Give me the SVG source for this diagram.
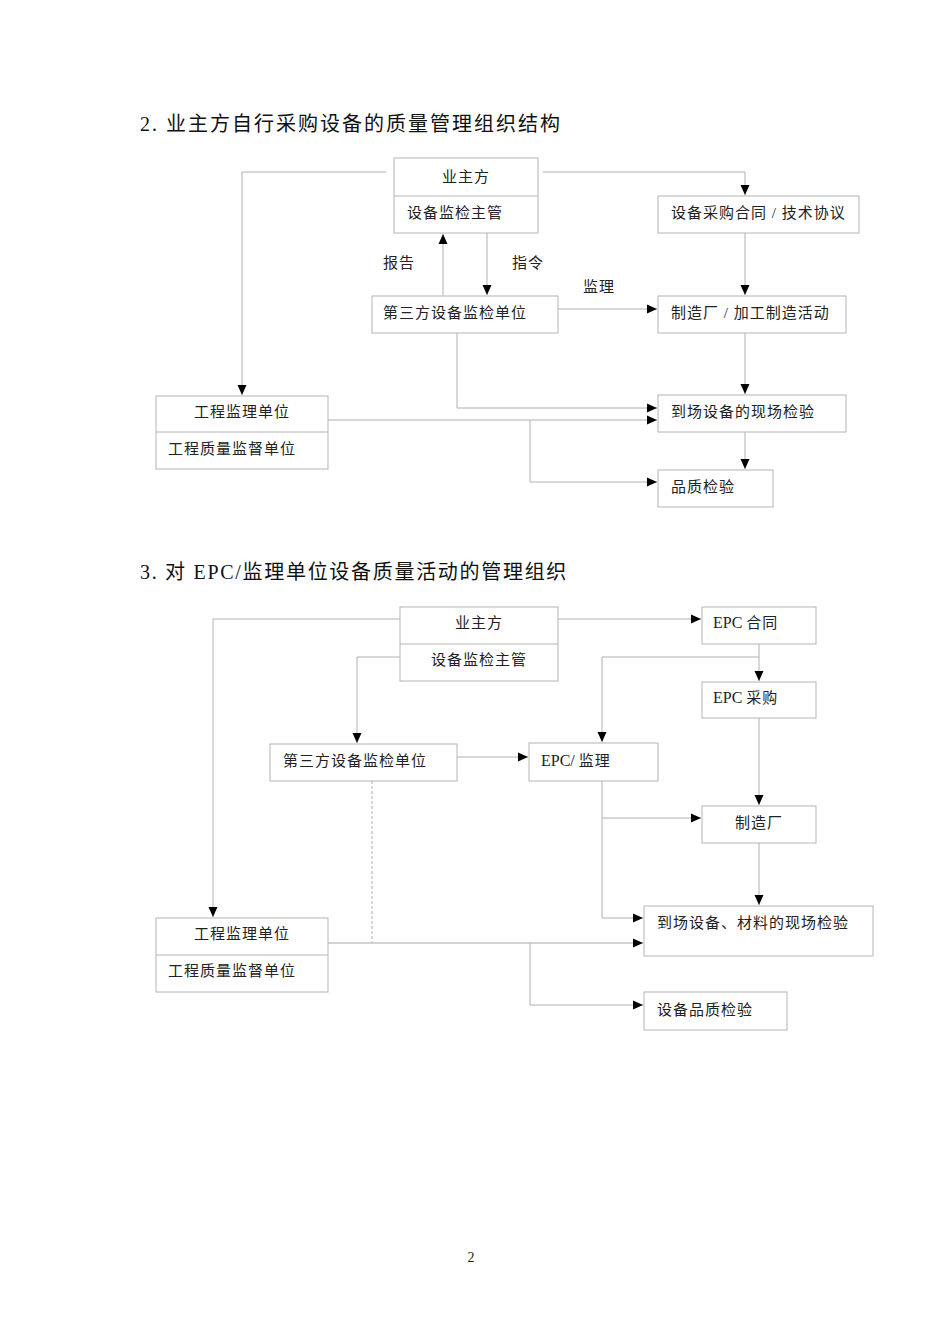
<svg xmlns="http://www.w3.org/2000/svg" width="950" height="1344" viewBox="0 0 950 1344">
<style>
.bg{fill:#ffffff}
.box{fill:#ffffff;stroke:#b4b4b4;stroke-width:1}
.div{stroke:#b4b4b4;stroke-width:1}
.ln{fill:none;stroke:#b0b0b0;stroke-width:1}
.dash{fill:none;stroke:#b0b0b0;stroke-width:1;stroke-dasharray:3,2}
.t{font-family:"Liberation Serif","Noto Sans CJK SC",serif;font-size:15px;fill:#222;letter-spacing:1px}
.h{font-family:"Liberation Serif","Noto Sans CJK SC",serif;font-size:20px;fill:#111;letter-spacing:2px}
.c{text-anchor:middle}
.e{letter-spacing:0;font-size:16px}
</style>
<defs>
<marker id="ah" markerUnits="userSpaceOnUse" markerWidth="10" markerHeight="10" refX="10" refY="5" orient="auto">
<path d="M0,0.5 L10,5 L0,9.5 z" fill="#000"/>
</marker>
</defs>
<rect class="bg" x="0" y="0" width="950" height="1344"/>

<text class="h" x="140" y="131">2. 业主方自行采购设备的质量管理组织结构</text>
<text class="h" x="140" y="579" style="letter-spacing:1.7px">3. 对 EPC/监理单位设备质量活动的管理组织</text>

<g id="connectors">
<path class="ln" d="M386,172 H242 V395" marker-end="url(#ah)"/>
<path class="ln" d="M543,172 H745 V195" marker-end="url(#ah)"/>
<path class="ln" d="M443,296 V234" marker-end="url(#ah)"/>
<path class="ln" d="M487,233 V295" marker-end="url(#ah)"/>
<path class="ln" d="M558,309 H657" marker-end="url(#ah)"/>
<path class="ln" d="M745,233 V295" marker-end="url(#ah)"/>
<path class="ln" d="M745,333 V394" marker-end="url(#ah)"/>
<path class="ln" d="M457,333 V408 H657" marker-end="url(#ah)"/>
<path class="ln" d="M328,420 H657" marker-end="url(#ah)"/>
<path class="ln" d="M530,420 V482 H657" marker-end="url(#ah)"/>
<path class="ln" d="M745,432 V469" marker-end="url(#ah)"/>
<path class="ln" d="M400,619 H213 V917" marker-end="url(#ah)"/>
<path class="ln" d="M400,657 H357 V743" marker-end="url(#ah)"/>
<path class="ln" d="M558,619 H701" marker-end="url(#ah)"/>
<path class="ln" d="M759,644 V681" marker-end="url(#ah)"/>
<path class="ln" d="M759,657 H602 V742" marker-end="url(#ah)"/>
<path class="ln" d="M457,757 H528" marker-end="url(#ah)"/>
<path class="ln" d="M759,718 V805" marker-end="url(#ah)"/>
<path class="ln" d="M602,781 V918 H643" marker-end="url(#ah)"/>
<path class="ln" d="M602,818 H701" marker-end="url(#ah)"/>
<path class="ln" d="M759,843 V905" marker-end="url(#ah)"/>
<path class="dash" d="M372,781 V943"/>
<path class="ln" d="M328,943 H643" marker-end="url(#ah)" style="stroke-width:1.5;stroke:#c4c4c4"/>
<path class="ln" d="M530,943 V1005 H643" marker-end="url(#ah)"/>
</g>

<text class="t" x="383" y="268">报告</text>
<text class="t" x="512" y="268">指令</text>
<text class="t" x="583" y="292">监理</text>

<g id="owner2">
<rect class="box" x="394" y="158" width="144" height="75"/>
<line class="div" x1="394" y1="196" x2="538" y2="196"/>
<text class="t c" x="466" y="182">业主方</text>
<text class="t" x="407" y="218">设备监检主管</text>
</g>
<g id="contract2">
<rect class="box" x="658" y="196" width="201" height="37"/>
<text class="t" x="671" y="218">设备采购合同 / 技术协议</text>
</g>
<g id="third2">
<rect class="box" x="372" y="296" width="186" height="37"/>
<text class="t" x="383" y="318">第三方设备监检单位</text>
</g>
<g id="factory2">
<rect class="box" x="658" y="296" width="188" height="37"/>
<text class="t" x="671" y="318">制造厂 / 加工制造活动</text>
</g>
<g id="site2">
<rect class="box" x="658" y="395" width="188" height="37"/>
<text class="t" x="671" y="417">到场设备的现场检验</text>
</g>
<g id="quality2">
<rect class="box" x="658" y="470" width="115" height="37"/>
<text class="t" x="671" y="492">品质检验</text>
</g>
<g id="supervision2">
<rect class="box" x="156" y="396" width="172" height="73"/>
<line class="div" x1="156" y1="432" x2="328" y2="432"/>
<text class="t c" x="242" y="417">工程监理单位</text>
<text class="t" x="168" y="454">工程质量监督单位</text>
</g>

<g id="owner3">
<rect class="box" x="400" y="607" width="158" height="74"/>
<line class="div" x1="400" y1="644" x2="558" y2="644"/>
<text class="t c" x="479" y="628">业主方</text>
<text class="t c" x="479" y="665">设备监检主管</text>
</g>
<g id="epccontract3">
<rect class="box" x="702" y="607" width="114" height="37"/>
<text class="t" x="713" y="628"><tspan class="e">EPC </tspan>合同</text>
</g>
<g id="epcbuy3">
<rect class="box" x="702" y="682" width="114" height="36"/>
<text class="t" x="713" y="703"><tspan class="e">EPC </tspan>采购</text>
</g>
<g id="third3">
<rect class="box" x="270" y="744" width="187" height="37"/>
<text class="t" x="283" y="766">第三方设备监检单位</text>
</g>
<g id="epcsup3">
<rect class="box" x="529" y="743" width="129" height="38"/>
<text class="t" x="541" y="766"><tspan class="e">EPC/ </tspan>监理</text>
</g>
<g id="factory3">
<rect class="box" x="702" y="806" width="114" height="37"/>
<text class="t c" x="759" y="828">制造厂</text>
</g>
<g id="site3">
<rect class="box" x="644" y="906" width="229" height="50"/>
<text class="t" x="657" y="928">到场设备、材料的现场检验</text>
</g>
<g id="quality3">
<rect class="box" x="644" y="992" width="143" height="38"/>
<text class="t" x="657" y="1015">设备品质检验</text>
</g>
<g id="supervision3">
<rect class="box" x="156" y="918" width="172" height="74"/>
<line class="div" x1="156" y1="955" x2="328" y2="955"/>
<text class="t c" x="242" y="939">工程监理单位</text>
<text class="t" x="168" y="976">工程质量监督单位</text>
</g>

<text class="c" x="471" y="1262" style="font-family:'Liberation Serif',serif;font-size:14px;fill:#222">2</text>
</svg>
